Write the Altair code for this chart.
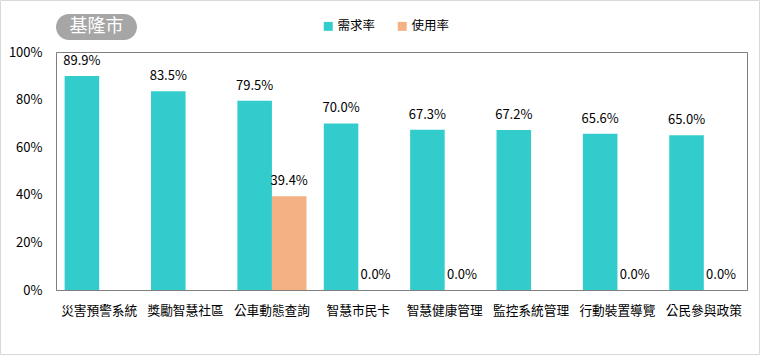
import altair as alt
import pandas as pd

categories = ["災害預警系統", "獎勵智慧社區", "公車動態查詢", "智慧市民卡",
              "智慧健康管理", "監控系統管理", "行動裝置導覽", "公民參與政策"]
demand = [89.9, 83.5, 79.5, 70.0, 67.3, 67.2, 65.6, 65.0]
usage = [None, None, 39.4, 0.0, 0.0, None, 0.0, 0.0]
series_names = ["需求率", "使用率"]
series_colors = ["#33CCCC", "#F4B183"]
title_text = "基隆市"
y_ticks = [0, 20, 40, 60, 80, 100]

rows = []
for c, d, u in zip(categories, demand, usage):
    rows.append({"cat": c, "series": series_names[0], "val": d})
    if u is not None:
        rows.append({"cat": c, "series": series_names[1], "val": u})
df = pd.DataFrame(rows)
df["label"] = df["val"].map(lambda v: f"{v:.1f}%")

FONT = "Noto Sans CJK TC"

x_enc = alt.X("cat:N", sort=categories, title=None,
              scale=alt.Scale(paddingInner=0.2, paddingOuter=0.1),
              axis=alt.Axis(labelAngle=0, ticks=False, labelPadding=14,
                            labelFontSize=12.7, labelColor="#000000",
                            domainColor="#7f7f7f", labelFont=FONT))
xo_enc = alt.XOffset("series:N", sort=series_names)
y_enc = alt.Y("val:Q", title=None,
              scale=alt.Scale(domain=[0, 100]),
              axis=alt.Axis(values=y_ticks, labelExpr="datum.value + '%'",
                            grid=False, ticks=False, domain=False,
                            labelPadding=14, labelFontSize=13,
                            labelColor="#000000", labelFont=FONT))

base = alt.Chart(df)

bars = base.mark_bar().encode(
    x=x_enc, xOffset=xo_enc, y=y_enc,
    color=alt.Color("series:N", sort=series_names,
                    scale=alt.Scale(domain=series_names, range=series_colors),
                    legend=alt.Legend(title=None, orient="none", direction="horizontal",
                                      legendX=266, legendY=-32, symbolType="square",
                                      symbolSize=80, symbolStrokeWidth=0,
                                      labelFontSize=12.5, labelFont=FONT,
                                      columnPadding=20, labelOffset=3)),
)

labels = base.mark_text(baseline="middle", dy=-15, fontSize=13, font=FONT,
                        color="#000000").encode(
    x=x_enc, xOffset=xo_enc, y=y_enc, text="label:N"
)

one = alt.Chart(pd.DataFrame({"t": [title_text]}))

pill = one.mark_rect(cornerRadius=13, color="#a6a6a6").encode(
    x=alt.value(0), x2=alt.value(81), y=alt.value(-38), y2=alt.value(-12)
)
pill_text = one.mark_text(color="#ffffff", fontSize=18, font=FONT,
                          align="center", baseline="middle").encode(
    x=alt.value(40.5), y=alt.value(-25), text="t:N"
)
frame = one.mark_rect(fill="transparent", stroke="#d9d9d9", strokeWidth=1).encode(
    x=alt.value(-55.5), x2=alt.value(703.5), y=alt.value(-51.5), y2=alt.value(302.5)
)

chart = alt.layer(frame, bars, labels, pill, pill_text).properties(
    width=691, height=238,
    autosize=alt.AutoSizeParams(type="none"),
    padding={"left": 56, "top": 52, "right": 14, "bottom": 65},
    background="#ffffff",
).configure_view(stroke="#7f7f7f", strokeWidth=1)

chart.save("out.html", embed_options={"renderer": "svg", "actions": False})
